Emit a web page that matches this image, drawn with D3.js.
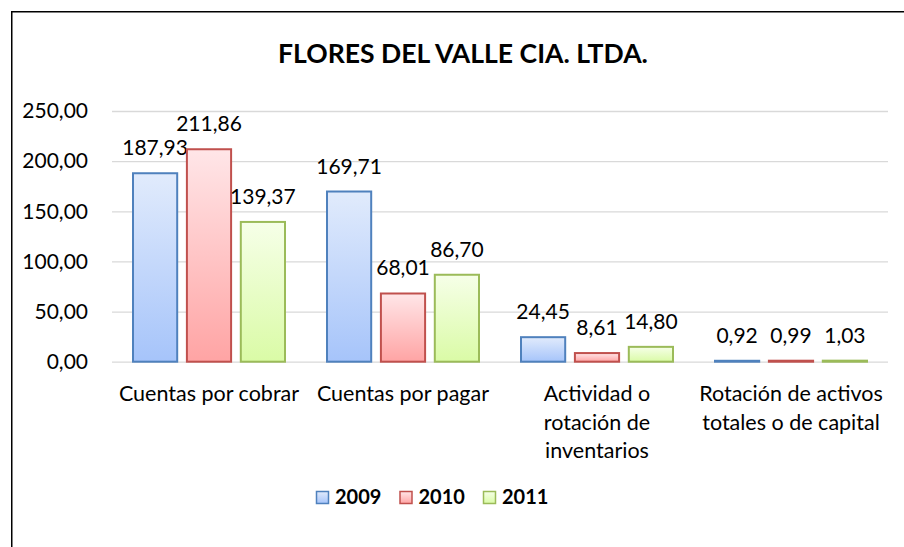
<!DOCTYPE html>
<html>
<head>
<meta charset="utf-8">
<script src="https://cdn.jsdelivr.net/npm/d3@7"></script>
<style>
  html, body { margin: 0; padding: 0; background: #fff; }
  svg { display: block; }
  text { font-family: Lato, "Open Sans", sans-serif; fill: #000; }
</style>
</head>
<body>
<svg id="chart" width="904" height="547"></svg>
<script>
// ---- data ----
const title = "FLORES DEL VALLE CIA. LTDA.";
const categories = [
  "Cuentas por cobrar",
  "Cuentas por pagar",
  "Actividad o\nrotación de\ninventarios",
  "Rotación de activos\ntotales o de capital"
];
const series = ["2009", "2010", "2011"];
const values2009 = [187.93, 169.71, 24.45, 0.92];
const values2010 = [211.86, 68.01, 8.61, 0.99];
const values2011 = [139.37, 86.70, 14.80, 1.03];
const yTicks = [0, 50, 100, 150, 200, 250];

const seriesValues = { "2009": values2009, "2010": values2010, "2011": values2011 };
const colors = {
  "2009": { stroke: "#4F81BD", top: "#E1EBFC", bottom: "#A6C4FA" },
  "2010": { stroke: "#C0504D", top: "#FFE6E8", bottom: "#FFA4A4" },
  "2011": { stroke: "#9BBB59", top: "#F6FFE8", bottom: "#DAFBA6" }
};

const svg = d3.select("#chart");
const fmt = d3.formatLocale({ decimal: ",", thousands: ".", grouping: [3], currency: ["", ""] }).format(".2f");

// outer border
svg.append("rect").attr("x", 11.75).attr("y", 11.75).attr("width", 1000).attr("height", 1000)
  .attr("fill", "none").attr("stroke", "#000").attr("stroke-width", 1.5);

// gradients
const defs = svg.append("defs");
series.forEach(s => {
  const g = defs.append("linearGradient").attr("id", "g" + s)
    .attr("x1", 0).attr("y1", 0).attr("x2", 0).attr("y2", 1);
  g.append("stop").attr("offset", "0%").attr("stop-color", colors[s].top);
  g.append("stop").attr("offset", "100%").attr("stop-color", colors[s].bottom);
});

// scales
const x0 = d3.scaleBand().domain(categories).range([112, 888]).paddingInner(0).paddingOuter(0);
const x1 = d3.scaleBand().domain(series).range([21, 173]).paddingInner(0.18);
const y = d3.scaleLinear().domain([0, 250]).range([361.7, 111]);

// title
const t = svg.append("text").attr("x", 463).attr("y", 63).attr("text-anchor", "middle")
  .style("font-weight", "bold").style("font-size", "28px").text(title);
const tw = t.node().getComputedTextLength();
t.style("font-size", (28 * 370 / tw).toFixed(2) + "px");

// gridlines
svg.append("g").attr("transform", "translate(112,0)")
  .call(d3.axisLeft(y).tickValues(yTicks).tickSize(-776).tickFormat(""))
  .call(g => g.select(".domain").remove())
  .call(g => g.selectAll("line").attr("stroke", "#D9D9D9").attr("stroke-width", 1.3));

// y axis labels
svg.append("g").attr("transform", "translate(112,0)")
  .call(d3.axisLeft(y).tickValues(yTicks).tickSize(0).tickPadding(24).tickFormat(fmt))
  .call(g => g.select(".domain").remove())
  .call(g => g.selectAll("text").style("font-size", "21px").style("font-family", "Lato, sans-serif").attr("fill", "#000"));

// bars
const groups = svg.append("g").selectAll("g").data(categories).join("g")
  .attr("transform", d => `translate(${x0(d)},0)`);

groups.each(function (cat, ci) {
  const g = d3.select(this);
  series.forEach(s => {
    const v = seriesValues[s][ci];
    g.append("rect")
      .attr("x", x1(s)).attr("width", x1.bandwidth())
      .attr("y", y(v)).attr("height", y(0) - y(v))
      .attr("fill", `url(#g${s})`).attr("stroke", colors[s].stroke).attr("stroke-width", 2);
    g.append("text")
      .attr("x", x1(s) + x1.bandwidth() / 2).attr("y", y(v) - 18)
      .attr("text-anchor", "middle").style("font-size", "21px")
      .text(fmt(v));
  });
});

// category labels
const xl = svg.append("g");
categories.forEach(c => {
  const lines = c.split("\n");
  const txt = xl.append("text").attr("text-anchor", "middle").style("font-size", "21.5px");
  lines.forEach((ln, i) => {
    txt.append("tspan").attr("x", x0(c) + x0.bandwidth() / 2).attr("y", 401 + i * 28.5).text(ln);
  });
});

// legend
const legend = svg.append("g");
series.forEach((s, i) => {
  const lx = 316 + i * 83.5;
  legend.append("rect").attr("x", lx + 0.5).attr("y", 491.5).attr("width", 12).attr("height", 12)
    .attr("fill", `url(#g${s})`).attr("stroke", colors[s].stroke).attr("stroke-width", 1.5);
  legend.append("text").attr("x", lx + 19).attr("y", 504)
    .style("font-weight", "bold").style("font-size", "20px").text(s);
});
</script>
</body>
</html>
